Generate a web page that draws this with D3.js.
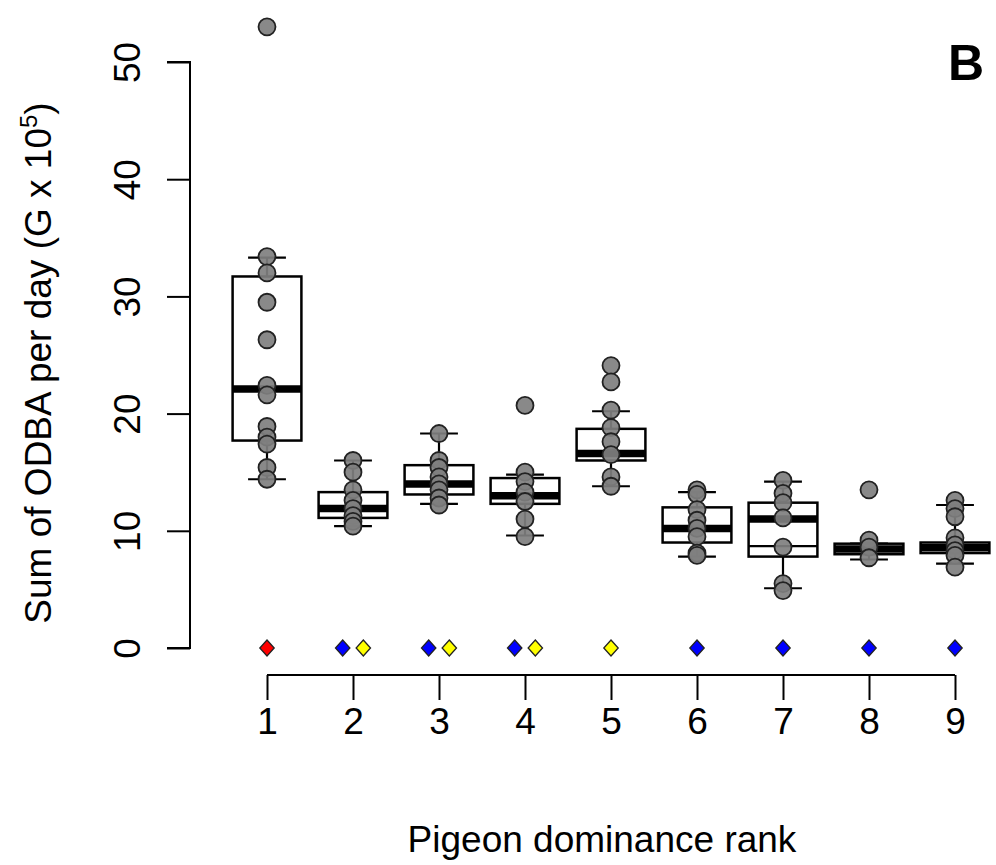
<!DOCTYPE html>
<html>
<head>
<meta charset="utf-8">
<script src="https://cdn.jsdelivr.net/npm/d3@7"></script>
<style>
  body { margin: 0; background: #fff; }
  text { font-family: "Liberation Sans", Arial, sans-serif; }
</style>
</head>
<body>
<svg width="996" height="865"></svg>
<script>
const ranks = [1, 2, 3, 4, 5, 6, 7, 8, 9];

// individual daily ODBA sums per pigeon rank
const points = [
  [53.0, 33.4, 32.0, 29.5, 26.3, 22.4, 21.6, 18.9, 18.0, 17.4, 15.4, 14.4],
  [16.0, 15.0, 13.5, 12.6, 11.9, 11.3, 10.8, 10.4],
  [18.3, 16.0, 15.4, 14.6, 14.0, 13.5, 12.8, 12.2],
  [20.7, 15.0, 14.2, 13.3, 12.5, 11.0, 9.5],
  [24.1, 22.7, 20.3, 18.8, 17.6, 16.5, 14.6, 13.8],
  [13.5, 13.1, 11.8, 10.9, 10.2, 9.5, 8.1, 7.9],
  [14.3, 13.2, 12.4, 11.1, 8.6, 5.5, 4.9],
  [13.5, 9.2, 8.6, 7.7],
  [12.6, 11.9, 11.2, 9.4, 8.8, 8.3, 7.9, 6.9]
];

// box statistics
const whiskerLow  = [14.4, 10.4, 12.3, 9.6, 13.8, 7.8, 5.1, 7.55, 7.2];
const q1          = [17.7, 11.1, 13.1, 12.3, 16.0, 9.0, 7.8, 8.0, 8.1];
const median      = [22.1, 11.9, 14.0, 13.0, 16.6, 10.2, 11.0, 8.45, 8.55];
const q3          = [31.7, 13.3, 15.6, 14.5, 18.7, 12.0, 12.4, 8.9, 9.0];
const whiskerHigh = [33.3, 16.0, 18.3, 14.8, 20.2, 13.3, 14.2, 8.9, 12.2];
// extra horizontal line seen inside rank 7 box
const extraLineRank = [7];
const extraLineValue = [8.7];

// diamonds along the zero line
const diamondRank  = [1, 2, 2, 3, 3, 4, 4, 5, 6, 7, 8, 9];
const diamondColor = ["red", "blue", "yellow", "blue", "yellow", "blue", "yellow",
                      "yellow", "blue", "blue", "blue", "blue"];

const yTicks = [0, 10, 20, 30, 40, 50];

const svg = d3.select("svg");

const x = d3.scaleLinear().domain([1, 9]).range([267, 955]);
const y = d3.scaleLinear().domain([0, 50]).range([648, 62]);

const boxHalf = (x(2) - x(1)) * 0.4,
      capHalf = boxHalf * 0.55;

// y axis
const yAxis = svg.append("g")
  .attr("transform", "translate(190,0)")
  .call(d3.axisLeft(y).tickValues(yTicks).tickSize(23).tickFormat(d3.format("d")));
yAxis.select(".domain").attr("d", `M-23,${y(0)}H0V${y(50)}H-23`).attr("stroke-width", 2);
yAxis.selectAll(".tick line").attr("stroke-width", 2);
yAxis.selectAll(".tick text")
  .attr("font-size", 37)
  .attr("fill", "#000")
  .attr("text-anchor", "middle")
  .attr("dy", 0)
  .attr("x", 0)
  .attr("transform", "translate(-50,0) rotate(-90)");

// x axis
const xAxis = svg.append("g")
  .attr("transform", "translate(0,675)")
  .call(d3.axisBottom(x).tickValues(ranks).tickSize(25).tickFormat(d3.format("d")));
xAxis.select(".domain").attr("d", `M${x(1)},0H${x(9)}`).attr("stroke-width", 2);
xAxis.selectAll(".tick line").attr("stroke-width", 2);
xAxis.selectAll(".tick text")
  .attr("font-size", 37)
  .attr("fill", "#000")
  .attr("y", 33)
  .attr("dy", "0.71em");

// axis titles
svg.append("text")
  .attr("transform", `translate(51,${(y(0) + y(50)) / 2 + 8}) rotate(-90)`)
  .attr("text-anchor", "middle")
  .attr("font-size", 37)
  .attr("fill", "#000")
  .text("Sum of ODBA per day (G x 10")
  .append("tspan").attr("font-size", 24).attr("dy", -14).text("5")
  .select(function() { return this.parentNode; })
  .append("tspan").attr("dy", 14).text(")");

svg.append("text")
  .attr("x", 602)
  .attr("y", 852)
  .attr("text-anchor", "middle")
  .attr("font-size", 37)
  .attr("fill", "#000")
  .text("Pigeon dominance rank");

svg.append("text")
  .attr("x", 948)
  .attr("y", 80)
  .attr("font-size", 50)
  .attr("font-weight", "bold")
  .text("B");

// boxes
const boxes = svg.append("g").selectAll("g")
  .data(ranks)
  .join("g");

boxes.append("line")
  .attr("x1", d => x(d)).attr("x2", d => x(d))
  .attr("y1", (d, i) => y(whiskerHigh[i])).attr("y2", (d, i) => y(q3[i]))
  .attr("stroke", "#000").attr("stroke-width", 2.2);
boxes.append("line")
  .attr("x1", d => x(d)).attr("x2", d => x(d))
  .attr("y1", (d, i) => y(q1[i])).attr("y2", (d, i) => y(whiskerLow[i]))
  .attr("stroke", "#000").attr("stroke-width", 2.2);
boxes.append("line")
  .attr("x1", d => x(d) - capHalf).attr("x2", d => x(d) + capHalf)
  .attr("y1", (d, i) => y(whiskerHigh[i])).attr("y2", (d, i) => y(whiskerHigh[i]))
  .attr("stroke", "#000").attr("stroke-width", 2.2);
boxes.append("line")
  .attr("x1", d => x(d) - capHalf).attr("x2", d => x(d) + capHalf)
  .attr("y1", (d, i) => y(whiskerLow[i])).attr("y2", (d, i) => y(whiskerLow[i]))
  .attr("stroke", "#000").attr("stroke-width", 2.2);
boxes.append("rect")
  .attr("x", d => x(d) - boxHalf)
  .attr("width", boxHalf * 2)
  .attr("y", (d, i) => y(q3[i]))
  .attr("height", (d, i) => y(q1[i]) - y(q3[i]))
  .attr("fill", "#fff")
  .attr("stroke", "#000")
  .attr("stroke-width", 2.5);
boxes.append("line")
  .attr("x1", d => x(d) - boxHalf).attr("x2", d => x(d) + boxHalf)
  .attr("y1", (d, i) => y(median[i])).attr("y2", (d, i) => y(median[i]))
  .attr("stroke", "#000").attr("stroke-width", 7.5);

svg.append("g").selectAll("line")
  .data(extraLineRank)
  .join("line")
  .attr("x1", d => x(d) - boxHalf).attr("x2", d => x(d) + boxHalf)
  .attr("y1", (d, i) => y(extraLineValue[i])).attr("y2", (d, i) => y(extraLineValue[i]))
  .attr("stroke", "#000").attr("stroke-width", 2.2);

// points
const pts = ranks.flatMap((r, i) => points[i].map(v => ({rank: r, value: v})));
svg.append("g").selectAll("circle")
  .data(pts)
  .join("circle")
  .attr("cx", d => x(d.rank))
  .attr("cy", d => y(d.value))
  .attr("r", 8.5)
  .attr("fill", "#7f7f7f")
  .attr("fill-opacity", 0.92)
  .attr("stroke", "#222")
  .attr("stroke-width", 1.8);

// diamonds
const counts = d3.rollup(diamondRank, v => v.length, d => d);
const seen = new Map();
const dm = diamondRank.map((r, i) => {
  const k = seen.get(r) || 0;
  seen.set(r, k + 1);
  const off = counts.get(r) > 1 ? (k === 0 ? -0.12 : 0.12) : 0;
  return {pos: r + off, color: diamondColor[i]};
});
svg.append("g").selectAll("path")
  .data(dm)
  .join("path")
  .attr("transform", d => `translate(${x(d.pos)},${y(0)})`)
  .attr("d", "M0,-8L7.2,0L0,8L-7.2,0Z")
  .attr("fill", d => d.color)
  .attr("stroke", "#222")
  .attr("stroke-width", 1.3);
</script>
</body>
</html>
